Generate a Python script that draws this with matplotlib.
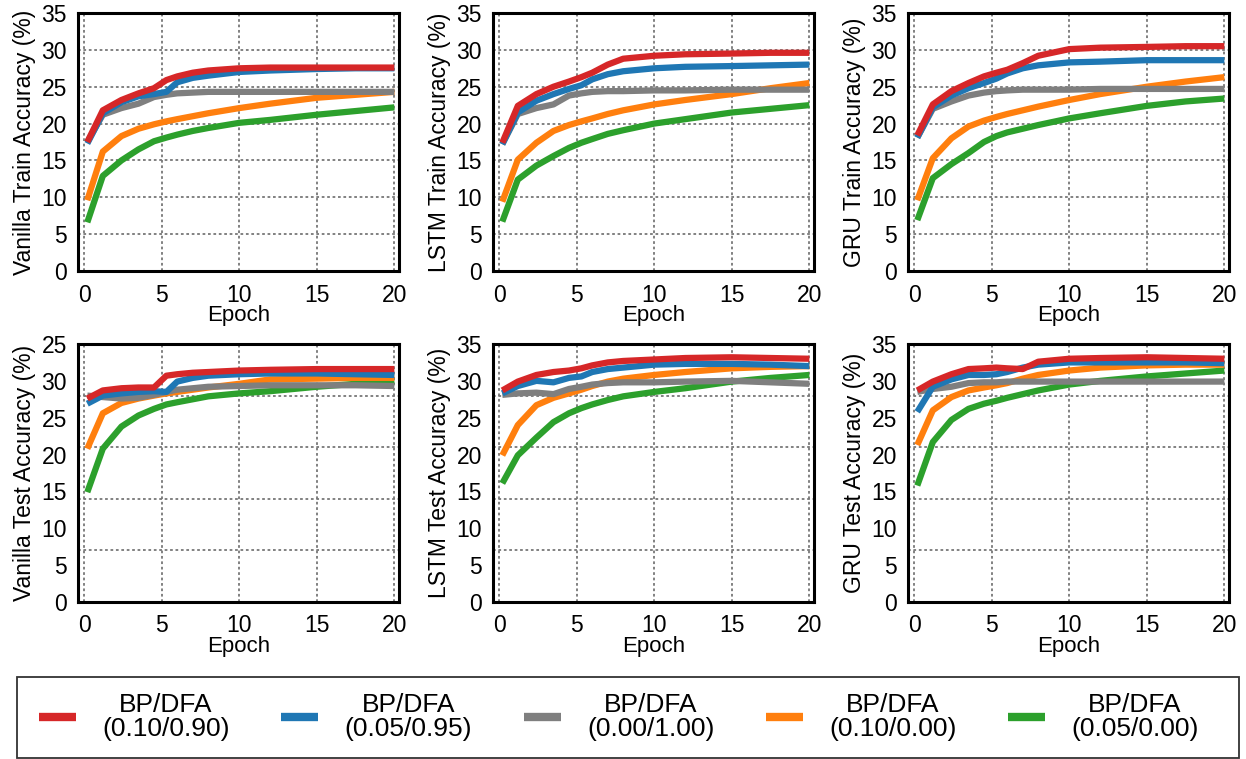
import matplotlib
matplotlib.use('Agg')
import matplotlib.pyplot as plt
from matplotlib.patches import Rectangle

plt.rcParams['font.family'] = ['Liberation Sans', 'DejaVu Sans']

# sample positions (epochs) shared by every curve
EPOCHS = [0.2, 1.2, 2.4, 3.5, 4.5, 5.3, 6, 7, 8, 10, 12, 15, 17.5, 20]

SERIES_LABELS = ["BP/DFA\n(0.10/0.90)", "BP/DFA\n(0.05/0.95)", "BP/DFA\n(0.00/1.00)",
                 "BP/DFA\n(0.10/0.00)", "BP/DFA\n(0.05/0.00)"]
SERIES_COLORS = ['#d62728', '#1f77b4', '#7f7f7f', '#ff7f0e', '#2ca02c']

# order in each block: red, blue, gray, orange, green
vanilla_train = [
    [17.5, 21.8, 23.2, 24.1, 24.8, 25.9, 26.4, 26.9, 27.2, 27.5, 27.6, 27.6, 27.6, 27.6],
    [17.3, 21.4, 22.9, 23.7, 24.0, 24.3, 25.6, 26.2, 26.5, 27.0, 27.2, 27.4, 27.5, 27.5],
    [17.5, 21.2, 22.1, 22.7, 23.6, 23.9, 24.1, 24.2, 24.3, 24.3, 24.3, 24.3, 24.3, 24.3],
    [9.6, 16.2, 18.3, 19.3, 19.9, 20.3, 20.6, 21.0, 21.4, 22.1, 22.7, 23.5, 23.9, 24.3],
    [6.6, 12.9, 15.0, 16.5, 17.6, 18.1, 18.5, 19.0, 19.4, 20.1, 20.5, 21.2, 21.7, 22.2],
]
lstm_train = [
    [17.4, 22.4, 24.0, 25.0, 25.7, 26.3, 26.9, 28.0, 28.8, 29.2, 29.4, 29.5, 29.6, 29.6],
    [17.2, 21.5, 23.1, 24.0, 24.7, 25.2, 26.0, 26.7, 27.1, 27.5, 27.7, 27.8, 27.9, 28.0],
    [17.2, 21.3, 22.1, 22.6, 23.8, 24.1, 24.3, 24.4, 24.4, 24.5, 24.5, 24.6, 24.6, 24.6],
    [9.4, 15.1, 17.4, 19.0, 19.8, 20.3, 20.7, 21.3, 21.8, 22.6, 23.2, 24.0, 24.8, 25.5],
    [6.7, 12.4, 14.3, 15.6, 16.7, 17.4, 17.9, 18.6, 19.1, 20.0, 20.6, 21.5, 22.0, 22.5],
]
gru_train = [
    [18.4, 22.6, 24.4, 25.5, 26.4, 26.9, 27.3, 28.2, 29.2, 30.1, 30.3, 30.4, 30.5, 30.5],
    [18.1, 22.2, 23.8, 24.8, 25.5, 26.1, 26.8, 27.5, 27.9, 28.3, 28.4, 28.6, 28.6, 28.6],
    [18.1, 22.0, 23.0, 23.8, 24.2, 24.4, 24.5, 24.6, 24.6, 24.6, 24.7, 24.7, 24.7, 24.7],
    [9.6, 15.3, 18.0, 19.6, 20.4, 20.9, 21.3, 21.8, 22.3, 23.2, 24.0, 25.0, 25.7, 26.3],
    [6.9, 12.6, 14.5, 16.0, 17.5, 18.3, 18.8, 19.3, 19.8, 20.7, 21.4, 22.4, 23.0, 23.4],
]
vanilla_test = [
    [27.6, 28.7, 29.0, 29.1, 29.1, 30.7, 30.9, 31.1, 31.2, 31.4, 31.5, 31.6, 31.6, 31.6],
    [26.9, 28.0, 28.3, 28.5, 28.6, 28.5, 29.9, 30.4, 30.7, 30.9, 31.0, 31.0, 30.9, 30.8],
    [28.0, 27.8, 27.6, 27.7, 28.1, 28.5, 28.8, 29.0, 29.2, 29.3, 29.4, 29.4, 29.4, 29.3],
    [20.8, 25.6, 27.0, 27.6, 28.0, 28.3, 28.5, 28.8, 29.1, 29.6, 30.2, 30.3, 30.4, 30.4],
    [14.9, 20.8, 23.8, 25.3, 26.2, 26.8, 27.1, 27.5, 27.9, 28.3, 28.6, 29.2, 29.6, 30.0],
]
lstm_test = [
    [28.7, 29.9, 30.8, 31.2, 31.4, 31.7, 32.1, 32.5, 32.7, 32.9, 33.1, 33.2, 33.1, 33.0],
    [28.3, 29.3, 30.0, 29.8, 30.4, 30.6, 31.2, 31.6, 31.8, 32.2, 32.3, 32.3, 32.2, 32.0],
    [28.1, 28.3, 28.4, 28.2, 28.9, 29.2, 29.5, 29.7, 29.8, 29.8, 29.9, 30.0, 29.8, 29.6],
    [19.9, 24.0, 26.7, 27.7, 28.3, 28.8, 29.3, 29.9, 30.3, 30.8, 31.2, 31.7, 31.9, 32.0],
    [16.1, 19.9, 22.3, 24.4, 25.6, 26.3, 26.8, 27.4, 27.9, 28.5, 29.0, 29.9, 30.4, 30.8],
]
gru_test = [
    [28.7, 29.9, 30.9, 31.6, 31.7, 31.8, 31.7, 31.6, 32.6, 33.0, 33.1, 33.2, 33.1, 33.0],
    [25.8, 29.2, 30.2, 30.8, 30.8, 30.9, 31.2, 31.8, 32.2, 32.5, 32.5, 32.5, 32.5, 32.4],
    [28.5, 28.9, 29.2, 29.7, 29.8, 29.8, 29.9, 29.9, 29.9, 29.9, 29.9, 29.9, 29.9, 29.9],
    [21.3, 26.0, 27.8, 28.7, 29.1, 29.4, 29.7, 30.3, 30.8, 31.4, 31.8, 32.1, 32.2, 32.2],
    [15.8, 21.7, 24.7, 26.2, 26.9, 27.3, 27.7, 28.2, 28.7, 29.5, 30.0, 30.6, 31.0, 31.4],
]

YTICKS = [0, 5, 10, 15, 20, 25, 30, 35]
YTICKLABELS = ['0', '5', '10', '15', '20', '25', '30', '35']
VANILLA_TEST_YTICKLABELS = ['0', '5', '10', '15', '20', '25', '30', '25']
TEST_GRID = [7, 14, 21, 28]
XTICKS = [0, 5, 10, 15, 20]

panels = [
    (vanilla_train, 'Vanilla Train Accuracy (%)', YTICKLABELS, None),
    (lstm_train, 'LSTM Train Accuracy (%)', YTICKLABELS, None),
    (gru_train, 'GRU Train Accuracy (%)', YTICKLABELS, None),
    (vanilla_test, 'Vanilla Test Accuracy (%)', VANILLA_TEST_YTICKLABELS, TEST_GRID),
    (lstm_test, 'LSTM Test Accuracy (%)', YTICKLABELS, TEST_GRID),
    (gru_test, 'GRU Test Accuracy (%)', YTICKLABELS, TEST_GRID),
]

W, H = 1246, 759
fig = plt.figure(figsize=(W / 100, H / 100), dpi=100)

col_left = [78, 493, 908]
row_top = [13, 344]
aw, ah = 321, 258

for i, (data, ylabel, ylabels, grid_y) in enumerate(panels):
    r, c = divmod(i, 3)
    ax = fig.add_axes([col_left[c] / W, 1 - (row_top[r] + ah) / H, aw / W, ah / H])
    # red ends up on top
    for ys, col in reversed(list(zip(data, SERIES_COLORS))):
        ax.plot(EPOCHS, ys, color=col, lw=4.5, solid_capstyle='butt')
    ax.set_xlim(-0.4, 20.3)
    ax.set_ylim(0, 35)
    ax.set_xticks(XTICKS)
    ax.set_yticks(YTICKS)
    ax.set_yticklabels(ylabels)
    ax.tick_params(length=0, labelsize=16.5)
    ax.tick_params(axis='x', pad=9)
    ax.tick_params(axis='y', pad=8)
    gkw = dict(color='#777777', linestyle=(0, (1.5, 1.5)), linewidth=1.3)
    ax.grid(axis='x', **gkw)
    if grid_y is None:
        ax.grid(axis='y', **gkw)
    else:
        ax.set_yticks(grid_y, minor=True)
        ax.tick_params(axis='y', which='minor', length=0)
        ax.grid(axis='y', which='minor', **gkw)
    ax.set_axisbelow(True)
    for s in ax.spines.values():
        s.set_linewidth(2.2)
        s.set_color('black')
    ax.set_xlabel('Epoch', fontsize=16, labelpad=-1)
    ax.set_ylabel(ylabel, fontsize=16.5, labelpad=4)

# legend frame drawn by hand, entries placed inside it
fig.patches.append(Rectangle((17 / W, 1 - 758 / H), 1222 / W, 81 / H,
                             transform=fig.transFigure, fill=False,
                             edgecolor='#333333', linewidth=1.3))
handles = [plt.Line2D([], [], color=c, lw=6, solid_capstyle='butt') for c in SERIES_COLORS]
leg = fig.legend(handles, SERIES_LABELS, loc='center left', ncol=5,
                 bbox_to_anchor=(39 / W, 1 - 717 / H),
                 fontsize=19, handlelength=1.4, handletextpad=1.0,
                 columnspacing=1.95, frameon=False, borderpad=0,
                 borderaxespad=0)
for t in leg.get_texts():
    t.set_multialignment('center')
    t.set_linespacing(1.05)

fig.savefig('out.png', dpi=100)
